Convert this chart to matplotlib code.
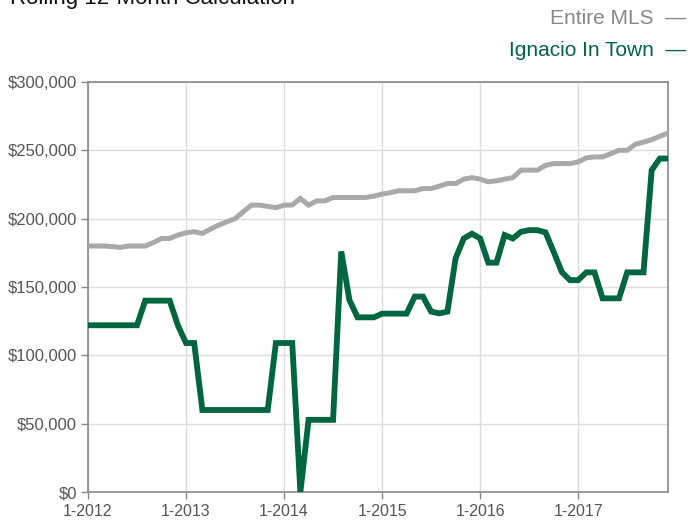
import numpy as np
import matplotlib
matplotlib.use('Agg')
from matplotlib import pyplot as plt
from matplotlib.ticker import FuncFormatter

plt.rcParams['font.family'] = ['Liberation Sans', 'DejaVu Sans']

# monthly values, Jan 2012 .. Dec 2017
entire_mls = [
    180000, 180000, 180000, 179500, 179000, 180000, 180000, 180000, 182500, 185500, 185500, 188000,
    189700, 190400, 189200, 192400, 195300, 197700, 200000, 205000, 209900, 209900, 209000, 208000,
    209900, 210000, 214800, 209900, 213000, 213000, 215500, 215500, 215500, 215500, 215500, 216500,
    218000, 219000, 220400, 220400, 220400, 222000, 222000, 223800, 225700, 225700, 228900, 230000,
    228900, 227000, 227700, 228900, 230000, 235500, 235500, 235500, 239000, 240300, 240300, 240300,
    241500, 244500, 245200, 245200, 247600, 250000, 250000, 254400, 256000, 257800, 260300, 262700,
]
ignacio = [
    122000, 122000, 122000, 122000, 122000, 122000, 122000, 140000, 140000, 140000, 140000, 122000,
    109000, 109000, 60000, 60000, 60000, 60000, 60000, 60000, 60000, 60000, 60000, 109000,
    109000, 109000, 0, 52800, 52800, 52800, 52800, 176000, 140500, 127800, 127800, 127800,
    130500, 130500, 130500, 130500, 143000, 143000, 132000, 130700, 132000, 171000, 185500, 189000,
    185500, 167800, 167800, 188000, 185500, 190400, 191600, 191600, 190000, 175800, 161000, 155000,
    155000, 160700, 160700, 141700, 141700, 141700, 160700, 160700, 160700, 235500, 244000, 244000,
]
year_ticks = [0, 12, 24, 36, 48, 60]
year_labels = ['1-2012', '1-2013', '1-2014', '1-2015', '1-2016', '1-2017']
y_ticks = [0, 50000, 100000, 150000, 200000, 250000, 300000]

gray = '#a9a9a9'
green = '#006640'
months = np.arange(len(entire_mls))

fig = plt.figure(figsize=(6.88, 5.2), dpi=100)
ax = fig.add_axes([88 / 688, 1 - 492 / 520, 580 / 688, 410 / 520])

ax.plot(months, entire_mls, color=gray, lw=3.6, solid_joinstyle='miter', zorder=3)
ax.plot(months, ignacio, color=green, lw=4.2, solid_joinstyle='miter', zorder=4)

ax.set_xlim(0, 71)
ax.set_ylim(0, 300000)
ax.set_xticks(year_ticks)
ax.set_xticklabels(year_labels)
ax.set_yticks(y_ticks)
ax.yaxis.set_major_formatter(FuncFormatter(lambda v, p: '${:,.0f}'.format(v)))
ax.grid(True, color='#dddddd', lw=1)
ax.set_axisbelow(True)
for s in ax.spines.values():
    s.set_color('#888888')
    s.set_linewidth(1.2)
ax.tick_params(colors='#888888', labelcolor='#555555', labelsize=12, length=5, width=1)
ax.tick_params(axis='x', pad=4, labelsize=11.5)
ax.tick_params(axis='y', pad=3)

fig.text(10 / 688, 1.0 - 4 / 520, 'Rolling 12-Month Calculation', fontsize=16, color='#111111',
         ha='left', va='baseline')
fig.text(686 / 688, 1 - 18 / 520, 'Entire MLS  \u2014', fontsize=15, color='#888888',
         ha='right', va='center')
fig.text(686 / 688, 1 - 51 / 520, 'Ignacio In Town  \u2014', fontsize=15, color=green,
         ha='right', va='center')

fig.savefig('out.png', dpi=100)
